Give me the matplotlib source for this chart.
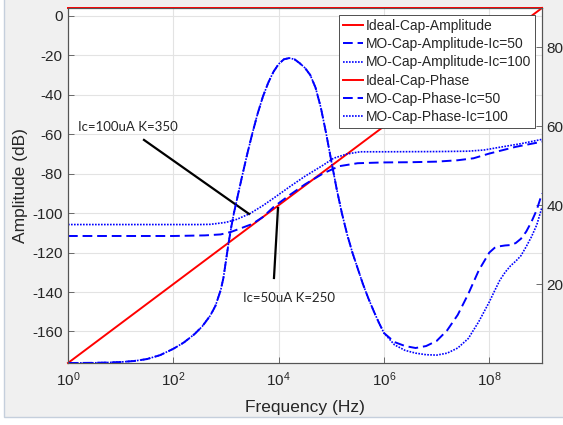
import numpy as np
import matplotlib.pyplot as plt
from matplotlib.patches import Rectangle
from matplotlib.ticker import NullLocator, LogFormatterSciNotation

plt.rcParams['font.family'] = ['Liberation Sans', 'DejaVu Sans']
plt.rcParams['axes.unicode_minus'] = False

# Ideal capacitor: straight lines on the log axis
ideal_freq = [1e0, 1e9]
ideal_amp = [-176, 4]       # dB
ideal_phase = [90, 90]      # deg

# MO capacitor amplitude (dB), frequency given as log10(Hz)
amp50_logf = [0, 1.0, 2.0, 2.6, 2.9, 3.1, 3.3, 3.5, 3.7, 3.9, 4.2, 4.5, 4.85,
              5.15, 5.5, 6.0, 6.5, 7.0, 7.4, 7.7, 8.0, 8.5, 9.0]
amp50 = [-111.6, -111.6, -111.6, -111.3, -110.8, -109.5, -107.5, -105.5, -102.0,
         -97.0, -91.0, -85.4, -79.8, -76.2, -74.7, -74.3, -74.2, -73.9, -73.2,
         -72.2, -69.8, -66.4, -63.8]

amp100_logf = [0, 1.0, 2.0, 2.5, 2.7, 3.0, 3.2, 3.45, 3.7, 3.9, 4.2, 4.5, 4.85,
               5.04, 5.3, 5.55, 6.0, 7.0, 7.6, 7.9, 8.2, 8.6, 9.0]
amp100 = [-105.8, -105.8, -105.8, -105.8, -105.7, -104.7, -103.2, -100.3, -96.2,
          -92.5, -86.8, -81.3, -75.6, -72.2, -70.0, -68.9, -68.9, -68.8, -68.6,
          -68.0, -66.6, -64.8, -62.6]

# MO capacitor phase (deg): both currents share the curve up to ~1 MHz
phase_logf = [0, 0.25, 0.5, 0.75, 1.0, 1.25, 1.5, 1.75, 2.0, 2.2, 2.4, 2.55, 2.7,
              2.8, 2.9, 2.95, 3.0, 3.05, 3.1, 3.15, 3.2, 3.3, 3.4, 3.5, 3.6, 3.7,
              3.8, 3.9, 4.0, 4.1, 4.2, 4.3, 4.4, 4.5, 4.6, 4.7, 4.8, 4.9, 5.0, 5.1,
              5.2, 5.3, 5.4, 5.5, 5.6, 5.7, 5.8, 5.9, 6.0]
phase_common = [0.0, 0.02, 0.05, 0.12, 0.25, 0.5, 1.0, 2.0, 3.6, 5.2, 7.3, 9.3, 12.0,
                14.5, 18.5, 21.5, 26.0, 30.5, 34.5, 38.0, 41.0, 47.0, 52.8, 58.2,
                63.2, 67.5, 71.0, 73.8, 75.8, 77.0, 77.3, 77.0, 76.0, 74.8, 73.0,
                69.8, 64.8, 58.3, 51.2, 44.2, 38.0, 32.6, 28.0, 24.0, 20.0, 16.5,
                13.3, 10.3, 7.6]

phase_hi_logf = [6.0, 6.2, 6.4, 6.6, 6.8, 7.0, 7.2, 7.4, 7.6, 7.8, 8.0, 8.1, 8.2,
                 8.3, 8.4, 8.5, 8.6, 8.7, 8.8, 8.9, 9.0]
phase50_hi = [7.6, 5.3, 4.3, 3.8, 4.3, 5.6, 8.3, 12.2, 17.5, 23.5, 28.0, 29.2, 29.6,
              29.8, 29.9, 30.4, 31.5, 33.3, 35.8, 38.8, 43.0]
phase100_hi = [7.6, 4.6, 3.2, 2.5, 2.1, 2.0, 2.5, 3.8, 6.2, 10.5, 15.5, 18.3, 21.0,
               23.0, 24.6, 25.8, 27.2, 29.5, 32.0, 35.0, 39.5]

left_ticks = [-160, -140, -120, -100, -80, -60, -40, -20, 0]
right_ticks = [20, 40, 60, 80]
x_ticks = [1e0, 1e2, 1e4, 1e6, 1e8]

fig = plt.figure(figsize=(5.63, 4.25), dpi=100, facecolor='white')
# grey window background like the MATLAB figure
fig.patches.append(Rectangle((4 / 563, 1 - 417 / 425), 1, 1, transform=fig.transFigure,
                             facecolor='#f0f0f0', edgecolor='#c5cfdc', lw=1, zorder=-10))

ax = fig.add_axes([68 / 563, 1 - 363 / 425, (542 - 68) / 563, (363 - 8) / 425])
ax.set_facecolor('white')
ax2 = ax.twinx()

red = '#ff0000'
blue = '#0000ff'
dash = (0, (5, 2.5))
dot = (0, (1, 0.8))

phase_f = 10.0 ** np.array(phase_logf + phase_hi_logf[1:])
phase50 = phase_common + phase50_hi[1:]
phase100 = phase_common + phase100_hi[1:]

h1, = ax.plot(ideal_freq, ideal_amp, color=red, lw=1.4, clip_on=False)
h2, = ax.plot(10.0 ** np.array(amp50_logf), amp50, color=blue, lw=1.4, ls=dash, clip_on=False)
h3, = ax.plot(10.0 ** np.array(amp100_logf), amp100, color=blue, lw=1.2, ls=dot, clip_on=False)

h4, = ax2.plot(ideal_freq, ideal_phase, color=red, lw=1.4, clip_on=False)
h5, = ax2.plot(phase_f, phase50, color=blue, lw=1.4, ls=dash, clip_on=False)
h6, = ax2.plot(phase_f, phase100, color=blue, lw=1.2, ls=dot, clip_on=False)

ax.set_xscale('log')
ax.set_xlim(1e0, 1e9)
ax.set_ylim(-176, 4)
ax2.set_ylim(0, 90)
ax.set_xticks(x_ticks)
ax.xaxis.set_major_formatter(LogFormatterSciNotation())
ax.xaxis.set_minor_locator(NullLocator())
ax.set_yticks(left_ticks)
ax2.set_yticks(right_ticks)

ax.grid(True, color='#e3e3e3', lw=0.8)
ax.set_axisbelow(True)

for a in (ax, ax2):
    for s in a.spines.values():
        s.set_color('#555555')
        s.set_linewidth(0.8)
    a.tick_params(direction='in', length=4, width=0.6, color='#555555',
                  labelsize=11, labelcolor='#262626')
ax.tick_params(axis='y', pad=4)
ax.tick_params(axis='x', pad=5)
ax2.tick_params(axis='y', pad=3)

ax.set_xlabel('Frequency (Hz)', fontsize=12.5, color='#262626', labelpad=8)
ax.set_ylabel('Amplitude (dB)', fontsize=12.5, color='#262626', labelpad=3)

# annotations
ax.plot([10 ** 1.443, 10 ** 3.437], [-62.9, -100.4], color='black', lw=1.6)
ax.plot([10 ** 3.987, 10 ** 3.911], [-97.4, -132.9], color='black', lw=1.6)
ax.text(10 ** 0.19, -56.3, 'Ic=100uA K=350', family=['Lato', 'DejaVu Sans'],
        fontsize=9.5, color='#262626', va='center', ha='left')
ax.text(10 ** 3.32, -143.0, 'Ic=50uA K=250', family=['Lato', 'DejaVu Sans'],
        fontsize=9.5, color='#262626', va='center', ha='left')

leg = ax2.legend([h1, h2, h3, h4, h5, h6],
                 ['Ideal-Cap-Amplitude', 'MO-Cap-Amplitude-Ic=50', 'MO-Cap-Amplitude-Ic=100',
                  'Ideal-Cap-Phase', 'MO-Cap-Phase-Ic=50', 'MO-Cap-Phase-Ic=100'],
                 loc='upper right', fontsize=10, handlelength=1.4, handletextpad=0.2,
                 labelspacing=0.3, borderpad=0.3, borderaxespad=0.5,
                 fancybox=False, framealpha=1)
leg.get_frame().set_edgecolor('#333333')
leg.get_frame().set_linewidth(0.6)
for t in leg.get_texts():
    t.set_color('#262626')

fig.savefig('out.png', dpi=100, facecolor=fig.get_facecolor())
